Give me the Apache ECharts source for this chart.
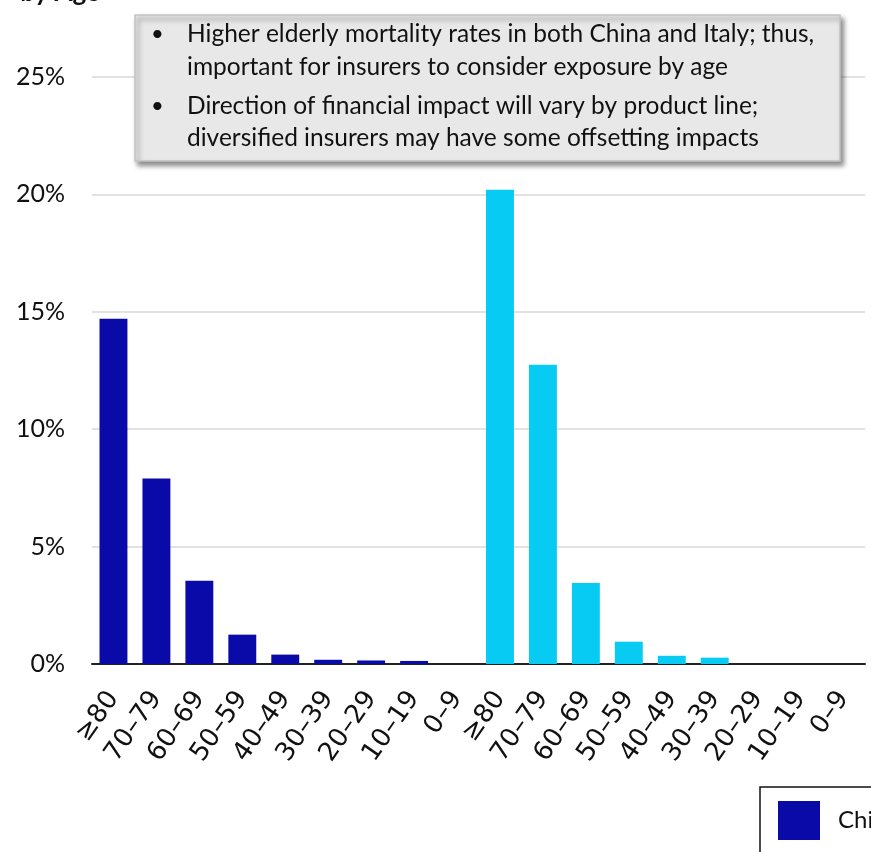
<!DOCTYPE html>
<html>
<head>
<meta charset="utf-8">
<script src="https://cdn.jsdelivr.net/npm/echarts@6/dist/echarts.min.js"></script>
<style>
  html, body { margin: 0; padding: 0; background: #fff; }
  #chart { width: 871px; height: 852px; }
</style>
</head>
<body>
<div id="chart"></div>
<script>
// Age bands, repeated once for each country group
const ageBands = ['≥80', '70–79', '60–69', '50–59', '40–49', '30–39', '20–29', '10–19', '0–9'];
const categories = ageBands.concat(ageBands);

// Case fatality rate by age band (%)
const chinaRates = [14.7, 7.9, 3.55, 1.25, 0.4, 0.18, 0.15, 0.13, 0];
const italyRates = [20.2, 12.75, 3.45, 0.95, 0.35, 0.27, 0, 0, 0];

const yTicks = [0, 5, 10, 15, 20, 25];

const seriesNames = ['China', 'Italy'];
const seriesColors = ['#0a0aa8', '#08cbf3'];

const bulletLines = [
  ['Higher elderly mortality rates in both China and Italy; thus,', 'important for insurers to consider exposure by age'],
  ['Direction of financial impact will vary by product line;', 'diversified insurers may have some offsetting impacts']
];

const blank = ageBands.map(() => '-');
const chinaData = chinaRates.concat(blank);
const italyData = blank.concat(italyRates);

const chart = echarts.init(document.getElementById('chart'), null, { renderer: 'canvas' });

const calloutText = [];
const lineY = [34, 67, 106, 138];
let k = 0;
bulletLines.forEach((pair) => {
  calloutText.push({
    type: 'text', z: 102,
    style: { x: 151, y: lineY[k], text: '•', font: '22px Lato', fill: '#111', verticalAlign: 'middle' }
  });
  pair.forEach((line) => {
    calloutText.push({
      type: 'text', z: 102,
      style: { x: 187, y: lineY[k], text: line, font: '24.5px Lato', fill: '#111', verticalAlign: 'middle' }
    });
    k++;
  });
});

chart.setOption({
  animation: false,
  backgroundColor: '#ffffff',
  grid: { left: 92, right: 6, top: 77, bottom: 188, containLabel: false },
  xAxis: {
    type: 'category',
    data: categories,
    axisLine: { show: true, lineStyle: { color: '#222', width: 2 } },
    axisTick: { show: false },
    axisLabel: {
      interval: 0,
      rotate: 55,
      margin: 30,
      fontFamily: 'DejaVu Sans',
      fontSize: 26,
      color: '#111'
    }
  },
  yAxis: {
    type: 'value',
    min: 0,
    max: 25,
    interval: 5,
    axisLine: { show: false },
    axisTick: { show: false },
    splitLine: { lineStyle: { color: '#d9d9d9', width: 1.5 } },
    axisLabel: {
      margin: 27,
      fontFamily: 'Lato',
      fontSize: 25,
      color: '#111',
      formatter: (v) => (yTicks.indexOf(v) >= 0 ? v + '%' : '')
    }
  },
  legend: {
    left: 760,
    top: 787,
    orient: 'horizontal',
    icon: 'rect',
    itemWidth: 42,
    itemHeight: 39,
    itemGap: 30,
    padding: [14, 18, 14, 18],
    borderColor: '#111',
    borderWidth: 1.5,
    backgroundColor: '#fff',
    textStyle: { fontFamily: 'Lato', fontSize: 24, color: '#111', padding: [0, 0, 0, 13] },
    data: seriesNames
  },
  series: [
    {
      name: seriesNames[0],
      type: 'bar',
      data: chinaData,
      barWidth: '65%',
      barGap: '-100%',
      itemStyle: { color: seriesColors[0], borderWidth: 0 }
    },
    {
      name: seriesNames[1],
      type: 'bar',
      data: italyData,
      barWidth: '65%',
      barGap: '-100%',
      itemStyle: { color: seriesColors[1], borderWidth: 0 }
    }
  ],
  graphic: [
    {
      type: 'text', z: 100,
      style: { x: 100, y: 6, text: 'by Age', font: 'bold 26px Lato', fill: '#111', align: 'right', verticalAlign: 'bottom' }
    },
    {
      type: 'rect', z: 100,
      shape: { x: 135, y: 15, width: 705, height: 146 },
      style: {
        fill: '#e8e8e8', stroke: '#c2c2c2', lineWidth: 1.5,
        shadowColor: 'rgba(0,0,0,0.45)', shadowBlur: 5, shadowOffsetX: 3, shadowOffsetY: 4
      }
    }
  ].concat(calloutText)
});
</script>
</body>
</html>
